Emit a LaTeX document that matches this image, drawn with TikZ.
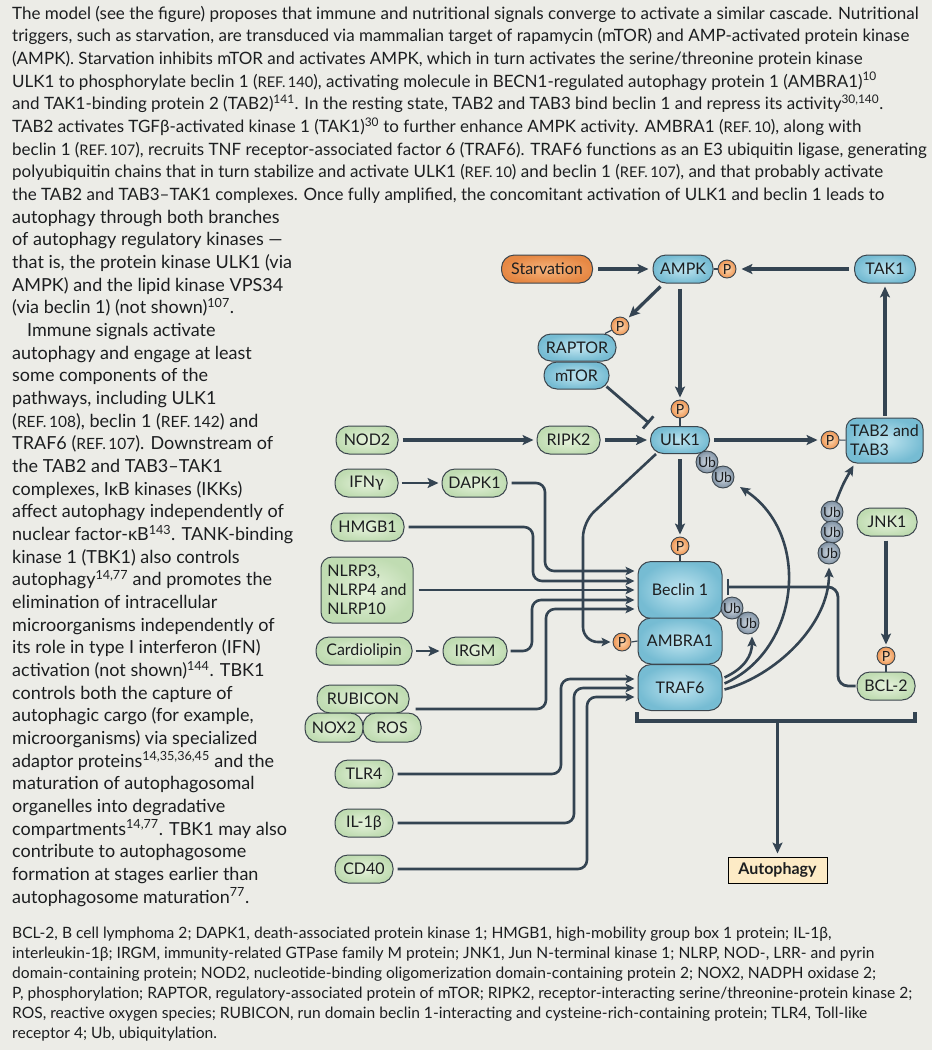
\documentclass[tikz,border=0pt]{standalone}
\usepackage{fontspec}
\setmainfont{Lato}
\usetikzlibrary{arrows.meta,calc}
\definecolor{bg}{RGB}{236,236,231}
\definecolor{lnc}{RGB}{52,68,82}
\definecolor{txt}{RGB}{28,30,32}
\definecolor{edge}{RGB}{60,70,78}
\definecolor{bin}{RGB}{192,229,240}
\definecolor{bout}{RGB}{118,188,211}
\definecolor{gin}{RGB}{230,242,220}
\definecolor{gout}{RGB}{192,220,178}
\definecolor{oin}{RGB}{245,180,125}
\definecolor{oout}{RGB}{230,136,68}
\definecolor{pin}{RGB}{253,218,180}
\definecolor{pout}{RGB}{238,150,84}
\definecolor{uin}{RGB}{212,220,228}
\definecolor{uout}{RGB}{128,146,164}
\definecolor{autof}{RGB}{253,235,198}
\newcommand{\rf}[1]{\scalebox{0.86}{REF.\,#1}}
\begin{document}
\begin{tikzpicture}[x=1pt,y=-1pt,
 nd/.style={draw=edge, line width=1pt, rounded corners=13pt, minimum height=28pt, inner sep=0pt, text=txt, font=\fontsize{16}{16}\selectfont},
 bnode/.style={nd, inner color=bin, outer color=bout},
 gnode/.style={nd, inner color=gin, outer color=gout},
 onode/.style={nd, inner color=oin, outer color=oout},
 pc/.style={circle, draw=edge, line width=0.9pt, minimum size=18pt, inner sep=0pt, inner color=pin, outer color=pout, text=txt, font=\fontsize{14}{14}\selectfont},
 ubc/.style={circle, draw=edge, line width=0.9pt, minimum size=22pt, inner sep=0pt, inner color=uin, outer color=uout, text=txt, font=\fontsize{14}{14}\selectfont},
 conn/.style={draw=lnc, line width=1.2pt},
 arr/.style={draw=lnc, line width=3.3pt, -{Stealth[length=11pt,width=10pt,inset=2.5pt]}},
 tarr/.style={draw=lnc, line width=2.6pt, rounded corners=9pt, -{Stealth[length=9pt,width=8.5pt,inset=2pt]}},
 tcv/.style={draw=lnc, line width=2.6pt, -{Stealth[length=10pt,width=9pt,inset=2pt]}},
 inh/.style={draw=lnc, line width=2.8pt, rounded corners=10pt, -{Bar[width=16pt]}},
 para/.style={anchor=base west, inner sep=0pt, text=txt, font=\fontsize{17}{17}\selectfont},
]
\useasboundingbox[fill=bg] (0,0) rectangle (932,1050);

% ---------- text ----------
\foreach \t [count=\i from 0] in {
{The model (see the figure) proposes that immune and nutritional signals converge to activate a similar cascade. Nutritional},
{triggers, such as starvation, are transduced via mammalian target of rapamycin (mTOR) and AMP-activated protein kinase},
{(AMPK). Starvation inhibits mTOR and activates AMPK, which in turn activates the serine/threonine protein kinase},
{ULK1 to phosphorylate beclin 1 (\rf{140}), activating molecule in BECN1-regulated autophagy protein 1 (AMBRA1)\textsuperscript{10}},
{and TAK1-binding protein 2 (TAB2)\textsuperscript{141}. In the resting state, TAB2 and TAB3 bind beclin 1 and repress its activity\textsuperscript{30,140}.},
{TAB2 activates TGFβ-activated kinase 1 (TAK1)\textsuperscript{30} to further enhance AMPK activity. AMBRA1 (\rf{10}), along with},
{beclin 1 (\rf{107}), recruits TNF receptor-associated factor 6 (TRAF6). TRAF6 functions as an E3 ubiquitin ligase, generating},
{polyubiquitin chains that in turn stabilize and activate ULK1 (\rf{10}) and beclin 1 (\rf{107}), and that probably activate},
{the TAB2 and TAB3–TAK1 complexes. Once fully amplified, the concomitant activation of ULK1 and beclin 1 leads to}
}{\node[para] (tx\i) at (12,{19+22.67*\i}) {\t};}

\foreach \t [count=\i from 9] in {
{autophagy through both branches},
{of autophagy regulatory kinases —},
{that is, the protein kinase ULK1 (via},
{AMPK) and the lipid kinase VPS34},
{(via beclin 1) (not shown)\textsuperscript{107}.},
{\hspace*{15pt}Immune signals activate},
{autophagy and engage at least},
{some components of the},
{pathways, including ULK1},
{(\rf{108}), beclin 1 (\rf{142}) and},
{TRAF6 (\rf{107}). Downstream of},
{the TAB2 and TAB3–TAK1},
{complexes, IκB kinases (IKKs)},
{affect autophagy independently of},
{nuclear factor-κB\textsuperscript{143}. TANK-binding},
{kinase 1 (TBK1) also controls},
{autophagy\textsuperscript{14,77} and promotes the},
{elimination of intracellular},
{microorganisms independently of},
{its role in type I interferon (IFN)},
{activation (not shown)\textsuperscript{144}. TBK1},
{controls both the capture of},
{autophagic cargo (for example,},
{microorganisms) via specialized},
{adaptor proteins\textsuperscript{14,35,36,45} and the},
{maturation of autophagosomal},
{organelles into degradative},
{compartments\textsuperscript{14,77}. TBK1 may also},
{contribute to autophagosome},
{formation at stages earlier than},
{autophagosome maturation\textsuperscript{77}.}
}{\node[para, font=\fontsize{18}{18}\selectfont] (tx\i) at (12,{19+22.67*\i}) {\t};}

\foreach \t [count=\i from 0] in {
{BCL-2, B cell lymphoma 2; DAPK1, death-associated protein kinase 1; HMGB1, high-mobility group box 1 protein; IL-1β,},
{interleukin-1β; IRGM, immunity-related GTPase family M protein; JNK1, Jun N-terminal kinase 1; NLRP, NOD-, LRR- and pyrin},
{domain-containing protein; NOD2, nucleotide-binding oligomerization domain-containing protein 2; NOX2, NADPH oxidase 2;},
{P, phosphorylation; RAPTOR, regulatory-associated protein of mTOR; RIPK2, receptor-interacting serine/threonine-protein kinase 2;},
{ROS, reactive oxygen species; RUBICON, run domain beclin 1-interacting and cysteine-rich-containing protein; TLR4, Toll-like},
{receptor 4; Ub, ubiquitylation.}
}{\node[para, font=\fontsize{15.6}{15.6}\selectfont] (lg\i) at (12,{938+20*\i}) {\t};}

% ---------- nodes ----------
\node[onode, minimum width=91pt] (starv) at (547,269) {Starvation};
\node[bnode, minimum width=60pt] (ampk) at (683,269) {AMPK};
\node[pc] (pAmpk) at (727,269) {P};
\node[bnode, minimum width=61pt] (tak1) at (885,269) {TAK1};
\node[pc] (pRap) at (620,326) {P};
\node[bnode, minimum width=78pt, minimum height=27pt] (raptor) at (577,347.5) {RAPTOR};
\node[bnode, minimum width=65pt, minimum height=27pt] (mtor) at (576.5,375.5) {mTOR};
\node[pc] (pUlk) at (680,409) {P};
\node[bnode, minimum width=59pt, minimum height=27pt] (ulk1) at (680,440) {ULK1};
\node[gnode, minimum width=63pt] (ripk2) at (568.5,440) {RIPK2};
\node[gnode, minimum width=62pt] (nod2) at (367,440) {NOD2};
\node[pc] (pTab) at (830,440) {P};
\node[bnode, minimum width=77pt, minimum height=45pt, rounded corners=11pt, align=left, font=\fontsize{16}{19}\selectfont] (tab) at (884.5,440.5) {TAB2 and\\TAB3};
\node[pc] (pBec) at (680,546) {P};
\node[bnode, minimum width=84pt, minimum height=57pt, rounded corners=13pt] (beclin) at (680,590) {Beclin 1};
\node[bnode, minimum width=84pt, minimum height=46pt, rounded corners=13pt] (ambra) at (680,641) {AMBRA1};
\node[bnode, minimum width=84pt, minimum height=46pt, rounded corners=13pt] (traf6) at (680,687.5) {TRAF6};
\node[pc] (pAmb) at (622,642) {P};
\node[gnode, minimum width=63pt] (ifng) at (366.5,483) {IFNγ};
\node[gnode, minimum width=65pt] (dapk1) at (474.5,483) {DAPK1};
\node[gnode, minimum width=73pt] (hmgb1) at (367.5,527) {HMGB1};
\node[gnode, minimum width=92pt, minimum height=66pt, rounded corners=11pt, align=left, font=\fontsize{16}{19}\selectfont] (nlrp) at (367,590) {NLRP3,\\NLRP4 and\\NLRP10};
\node[gnode, minimum width=96pt] (cardio) at (364,651) {Cardiolipin};
\node[gnode, minimum width=64pt] (irgm) at (475,651) {IRGM};
\node[gnode, minimum width=92pt] (rubicon) at (363,699) {RUBICON};
\node[gnode, minimum width=58pt, minimum height=29pt] (nox2) at (334,727.5) {NOX2};
\node[gnode, minimum width=58pt, minimum height=29pt] (ros) at (392,727.5) {ROS};
\node[gnode, minimum width=58pt] (tlr4) at (364,774) {TLR4};
\node[gnode, minimum width=58pt] (il1b) at (364,823) {IL-1β};
\node[gnode, minimum width=58pt] (cd40) at (364,869) {CD40};
\node[gnode, minimum width=60pt] (jnk1) at (887,522) {JNK1};
\node[pc] (pBcl) at (886,656) {P};
\node[gnode, minimum width=58pt] (bcl2) at (886,686) {BCL-2};
\node[ubc] (ubU1) at (707,462) {Ub};
\node[ubc] (ubU2) at (723,477) {Ub};
\node[ubc] (ubT1) at (832,512) {Ub};
\node[ubc] (ubT2) at (832,532) {Ub};
\node[ubc] (ubT3) at (829,553) {Ub};
\node[ubc] (ubB1) at (732,608) {Ub};
\node[ubc] (ubB2) at (748,623) {Ub};
\node[draw=black, line width=1pt, fill=autof, minimum width=99pt, minimum height=26pt, inner sep=0pt, font=\bfseries\fontsize{16}{16}\selectfont, text=txt] (auto) at (777.5,870) {Autophagy};

% ---------- connectors ----------
\draw[arr, shorten <=5pt, shorten >=4pt] (starv) -- (ampk);
\draw[conn] (ampk.east) -- (pAmpk.west);
\draw[arr, shorten <=5pt, shorten >=5pt] (tak1) -- (pAmpk);
\draw[arr, shorten >=3pt] ($(ampk.south west)+(8,3)$) -- (pRap);
\draw[conn] (pRap) -- (raptor);
\draw[inh, shorten >=1pt] ($(mtor.south east)+(-3,-3)$) -- ($(ulk1.north west)+(0,-2)$);
\draw[arr, shorten <=5pt, shorten >=2pt] (pUlk |- ampk.south) -- (pUlk.north);
\draw[conn] (pUlk.south) -- (pUlk |- ulk1.north);
\draw[arr, line width=3.8pt, shorten <=4pt, shorten >=3pt] (nod2) -- (ripk2);
\draw[arr, line width=3.8pt, shorten <=4pt, shorten >=3pt] (ripk2) -- (ulk1);
\draw[arr, shorten <=4pt, shorten >=3pt] (ulk1) -- (pTab);
\draw[conn] (pTab) -- (tab);
\draw[arr, shorten <=2pt, shorten >=3pt] (tab.north -| tak1) -- (tak1.south);
\draw[arr, shorten <=5pt, shorten >=2pt] (ulk1.south -| pBec) -- (pBec.north);
\draw[conn] (pBec.south) -- (pBec |- beclin.north);
\draw[tarr, rounded corners=15pt, shorten >=2pt] ($(ulk1.south west)+(6,0)$) -- (583,522) -- (583,642) -- (pAmb.west);
\draw[conn] (pAmb.east) -- (ambra.west);

\draw[arr, line width=2.8pt, shorten <=3pt, shorten >=3pt] (ifng) -- (dapk1);
\draw[arr, line width=2.8pt, shorten <=3pt, shorten >=3pt] (cardio) -- (irgm);
\draw[tarr, shorten <=4pt, shorten >=3pt] (dapk1.east) -- (545,483) -- (545,571) -- (beclin.west |- 0,571);
\draw[tarr, shorten <=4pt, shorten >=3pt] (hmgb1.east) -- (533,527) -- (533,581) -- (beclin.west |- 0,581);
\draw[tarr, shorten <=5pt, shorten >=3pt] (nlrp.east |- 0,590) -- (beclin.west |- 0,590);
\draw[tarr, shorten <=3pt, shorten >=3pt] (irgm.east) -- (532,651) -- (532,600) -- (beclin.west |- 0,600);
\draw[tarr, shorten >=3pt] ($(rubicon.east)+(6,10)$) -- (546,709) -- (546,609) -- (beclin.west |- 0,609);
\draw[tarr, shorten <=4pt, shorten >=3pt] (tlr4.east) -- (561,774) -- (561,679) -- (traf6.west |- 0,679);
\draw[tarr, shorten <=4pt, shorten >=3pt] (il1b.east) -- (574,823) -- (574,688) -- (traf6.west |- 0,688);
\draw[tarr, shorten <=4pt, shorten >=3pt] (cd40.east) -- (587,869) -- (587,697) -- (traf6.west |- 0,697);

\draw[inh, shorten <=1pt, shorten >=4pt] (bcl2.west) -- (838,686) -- (838,587) -- (beclin.east |- 0,587);
\draw[arr, shorten <=4pt, shorten >=2pt] (jnk1.south -| pBcl) -- (pBcl.north);
\draw[conn] (pBcl.south) -- (pBcl |- bcl2.north);

\draw[tcv] ($(ubT1.north)+(4,1)$) .. controls (843,484) .. ($(tab.south west)+(8,2)$);
\draw[tcv] ($(traf6.east)+(2,-10)$) .. controls (745,668) and (752,655) .. ($(ubB2.south)+(4,2)$);
\draw[tcv] ($(traf6.east)+(2,-4)$) .. controls (800,650) and (812,535) .. ($(ubU2)+(17,10)$);
\draw[tcv] ($(traf6.east)+(2,2)$) .. controls (775,676) and (829,625) .. ($(ubT3.south)+(0,3)$);

\coordinate (brl) at (637,712);
\coordinate (brr) at (915,712);
\coordinate (brm) at (777.5,721);
\draw[lnc, line width=3.4pt] (brl) -- (brl |- brm) -- (brr |- brm) -- (brr);
\draw[arr, shorten >=3pt] (brm) -- (auto.north);
\end{tikzpicture}
\end{document}
